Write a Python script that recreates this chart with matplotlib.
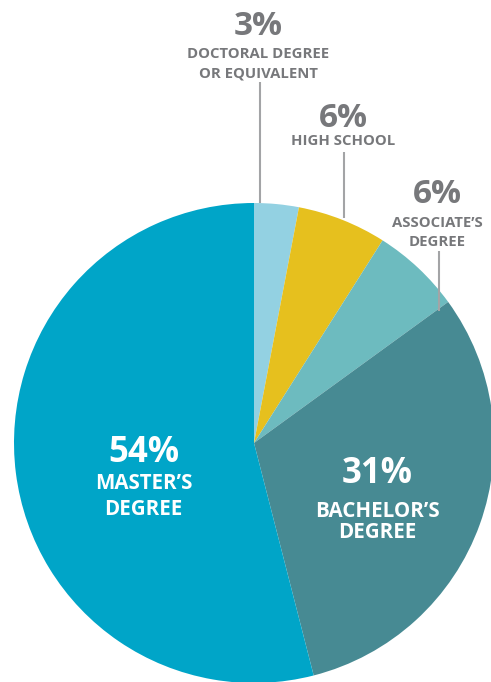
import matplotlib.pyplot as plt

# highest degree earned, share of respondents
labels = ["DOCTORAL DEGREE\nOR EQUIVALENT", "HIGH SCHOOL", "ASSOCIATE\u2019S\nDEGREE",
          "BACHELOR\u2019S\nDEGREE", "MASTER\u2019S\nDEGREE"]
shares = [3, 6, 6, 31, 54]
colors = ["#93D1E2", "#E6C01E", "#6DBBBF", "#478A93", "#00A5C8"]

W, H = 491, 682
fig = plt.figure(figsize=(W / 100, H / 100), dpi=100)
ax = fig.add_axes([0, 0, 1, 1])

cx, cy, r = 254, H - 443, 240
ax.pie(shares, colors=colors, startangle=90, counterclock=False,
       center=(cx, cy), radius=r, wedgeprops=dict(linewidth=0))
ax.set_xlim(0, W)
ax.set_ylim(0, H)
ax.set_aspect("equal")
ax.axis("off")

gray = "#77787B"
font = "Open Sans"


def label(x, pct_base, line_bases, pct, lab, color, pct_size, lab_size):
    # positions are baselines, measured from the top of the image
    ax.text(x, H - pct_base, f"{pct}%", ha="center", va="baseline", color=color,
            fontsize=pct_size, fontweight="bold", family=font)
    for line, base in zip(lab.split("\n"), line_bases):
        ax.text(x, H - base, line, ha="center", va="baseline", color=color,
                fontsize=lab_size, fontweight="bold", family=font)


def leader(x, y0, y1):
    ax.plot([x, x], [H - y0, H - y1], color="#A3A4A6", lw=1.5,
            solid_capstyle="butt")


# small slices: labels above the pie with leader lines
label(258, 35, [58, 77], shares[0], labels[0], gray, 24, 10.7)
leader(260, 82, 203)
label(343.5, 127, [145], shares[1], labels[1], gray, 24, 10.7)
leader(344, 152, 218)
label(437, 203, [227, 246], shares[2], labels[2], gray, 24, 10.7)
leader(439, 251, 311)

# large slices: labels inside
label(143.5, 462, [489, 515], shares[4], labels[4], "white", 25, 14.8)
label(377.5, 483, [517, 538], shares[3], labels[3], "white", 25, 14.8)

fig.savefig("out.png", dpi=100)
